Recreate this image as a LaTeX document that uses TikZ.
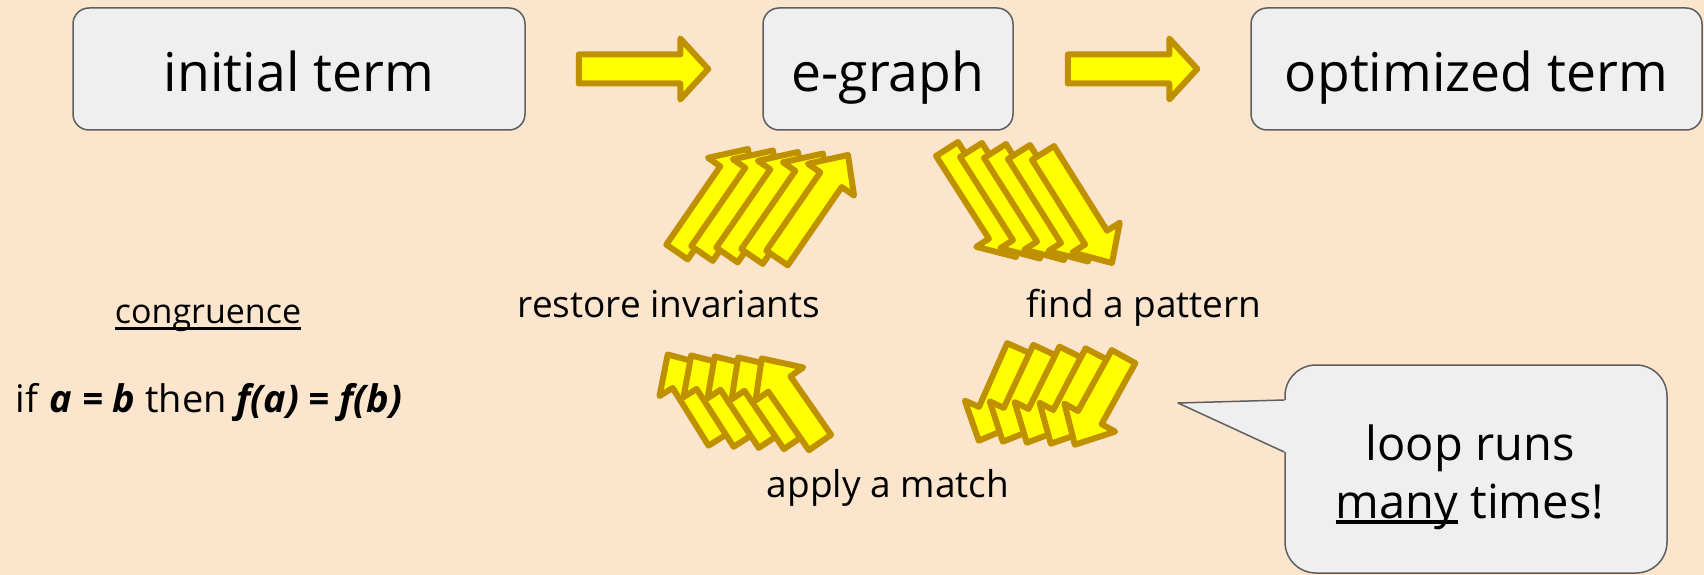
\documentclass[tikz,border=0pt]{standalone}
\usepackage{fontspec}
\setmainfont{Open Sans}
\usetikzlibrary{calc}
\definecolor{bgc}{HTML}{FCE5CD}
\definecolor{boxfill}{HTML}{EFEFEF}
\definecolor{boxline}{HTML}{5F5F5F}
\definecolor{arrline}{HTML}{BF9000}
\definecolor{arrfill}{HTML}{FFFF00}
\newcommand{\yarw}[5]{%
  \path ($(#2)!#5!(#1)$) coordinate (nk);
  \draw[yarr] ($(#1)!#3!90:(#2)$) -- ($(nk)!#3!90:(#2)$) -- ($(nk)!#4!90:(#2)$) -- (#2)
    -- ($(nk)!#4!-90:(#2)$) -- ($(nk)!#3!-90:(#2)$) -- ($(#1)!#3!-90:(#2)$) -- cycle;}
\newcommand{\ulbox}[3]{\setbox0\hbox{#3}\rlap{\rule[#1]{\wd0}{#2}}\box0\relax}
\begin{document}
\begin{tikzpicture}[x=1pt,y=-1pt,
  box/.style={draw=boxline, fill=boxfill, line width=1.5pt, rounded corners=16pt,
    minimum height=122pt, inner sep=0pt, text height=50pt, text depth=4pt,
    font=\fontsize{53.5pt}{60pt}\selectfont},
  yarr/.style={draw=arrline, fill=arrfill, line width=6pt, line join=round},
  lbl/.style={anchor=base, inner sep=0pt, font=\fontsize{37pt}{44pt}\selectfont},
  bubtxt/.style={anchor=base, inner sep=0pt, font=\fontsize{47pt}{54pt}\selectfont},
  bubbox/.style={draw=boxline, fill=boxfill, line width=1.5pt, rounded corners=31pt, inner sep=0pt},
]
\useasboundingbox (0,0) rectangle (1704,575);
\fill[bgc] (0,0) rectangle (1704,575);

% main boxes
\node[box, minimum width=452pt] (init) at (299,69) {initial term};
\node[box, minimum width=250pt] (egraph) at (888,69) {e-graph};
\node[box, minimum width=451pt] (opt) at (1476.5,69) {optimized term};

% flow arrows
\coordinate (f1s) at ($(init.east)+(53,0)$);
\coordinate (f1e) at ($(egraph.west)+(-54,0)$);
\coordinate (f2s) at ($(egraph.east)+(54,0)$);
\coordinate (f2e) at ($(opt.west)+(-53,0)$);
\yarw{f1s}{f1e}{14.5pt}{30.5pt}{28pt}
\yarw{f2s}{f2e}{14.5pt}{30.5pt}{28pt}

% group 1: restore invariants (up-right)
\foreach \k in {4,3,2,1,0} {
  \coordinate (g1t\k) at ({777-25*\k},{258-1.5*\k});
  \coordinate (g1p\k) at ({848-25*\k},{155-1.5*\k});
  \yarw{g1t\k}{g1p\k}{13pt}{28pt}{30pt}
}
% group 2: find a pattern (down-right)
\foreach \k in {4,3,2,1,0} {
  \coordinate (g2t\k) at ({1043-24*\k},{153-1*\k});
  \coordinate (g2p\k) at ({1112-24*\k},{263-1.5*\k});
  \yarw{g2t\k}{g2p\k}{13pt}{28pt}{30pt}
}
% group 3: apply a match (up-left)
\foreach \k in {4,3,2,1,0} {
  \coordinate (g3t\k) at ({820-25*\k},{442.5-1*\k});
  \coordinate (g3p\k) at ({761.7-23.5*\k},{358.5-1*\k});
  \yarw{g3t\k}{g3p\k}{13.5pt}{29pt}{31pt}
}
% group 4: back to e-graph (down-left)
\foreach \k in {4,3,2,1,0} {
  \coordinate (g4t\k) at ({1123.5-26*\k},{356.6-2*\k});
  \coordinate (g4p\k) at ({1074.8-24*\k},{444.7-1*\k});
  \yarw{g4t\k}{g4p\k}{13.5pt}{29pt}{31pt}
}

% labels
\node[lbl] (restore) at (669,317) {restore invariants};
\node[lbl] (find) at (1144,317) {find a pattern};
\node[lbl] (apply) at (888,497) {apply a match};
\node[lbl, font=\fontsize{34pt}{40pt}\selectfont] (cong) at (208,323) {\ulbox{-7pt}{3pt}{congruence}};
\node[lbl, font=\fontsize{38pt}{44pt}\selectfont] (rule) at (209,412)
  {if \textbf{\textit{a = b}} then \textbf{\textit{f(a) = f(b)}}};

% speech bubble
\node[bubbox, minimum width=382pt, minimum height=208pt] (bub) at (1476,469) {};
\coordinate (ptip) at (1178,403);
\coordinate (pa) at ($(bub.west)+(0,-69)$);
\coordinate (pb) at ($(bub.west)+(0,-17)$);
\fill[boxfill] (pa) -- (ptip) -- (pb) -- ($(pb)+(4,0)$) -- ($(pa)+(4,0)$) -- cycle;
\draw[boxline, line width=1.5pt, line join=round] (pa) -- (ptip) -- (pb);
\node[bubtxt] (loop) at (1470,460) {loop runs};
\node[bubtxt] (many) at (1470,518) {\ulbox{-6pt}{4pt}{many} times!};
\end{tikzpicture}
\end{document}
